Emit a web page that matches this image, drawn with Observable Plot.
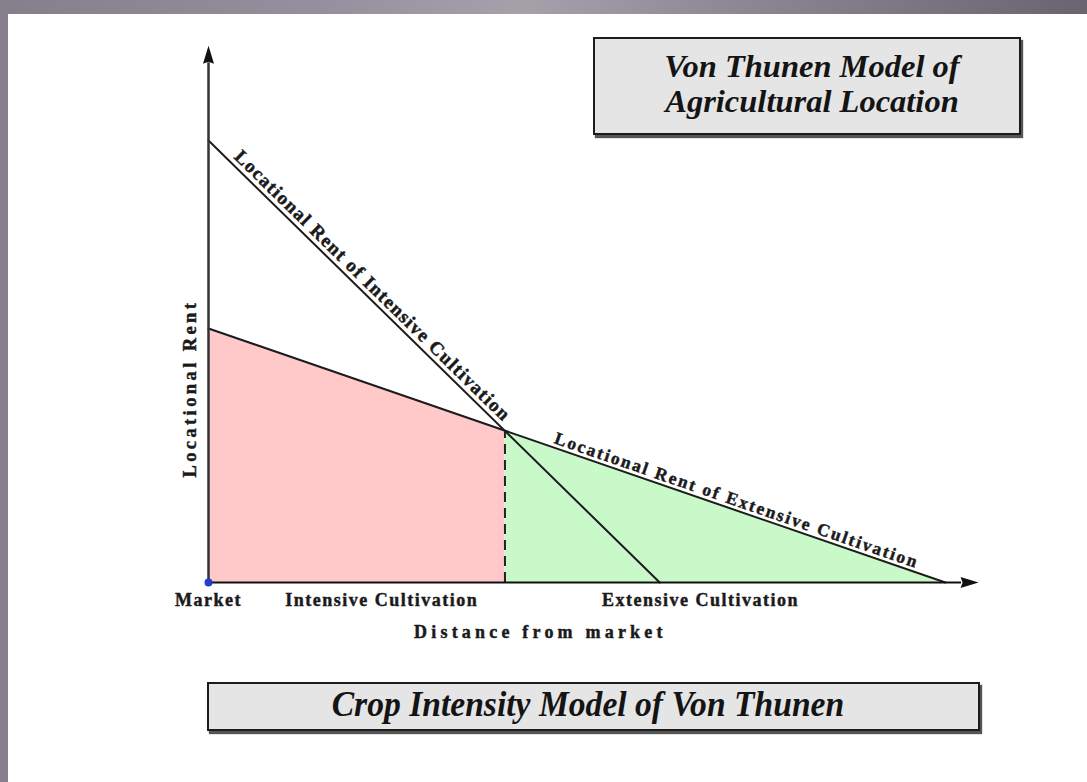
<!DOCTYPE html>
<html><head><meta charset="utf-8">
<script src="https://cdn.jsdelivr.net/npm/d3@7"></script>
<script src="https://cdn.jsdelivr.net/npm/@observablehq/plot@0.6"></script>
<style>
html,body{margin:0;padding:0;width:1087px;height:782px;overflow:hidden;}
body{position:relative;background:linear-gradient(90deg,#857e8b 0%,#96909e 30%,#a5a1ab 48%,#8b8491 70%,#6a6370 100%);font-family:"Liberation Serif",serif;}
#page{position:absolute;left:8px;top:14px;width:1079px;height:768px;background:#fff;}
#chart{position:absolute;left:0;top:0;}
.box{position:absolute;box-sizing:border-box;background:#e5e5e5;border:2px solid #1c1c1c;box-shadow:2px 3px 1px #555;text-align:center;font-weight:bold;font-style:italic;color:#141414;font-family:"Liberation Serif",serif;}
#t1{left:585px;top:23px;width:428px;height:98px;font-size:32.5px;line-height:35px;padding-top:10px;padding-left:10px;}
#t2{left:199px;top:668px;width:773px;height:49px;font-size:35px;line-height:42px;}
#t2 span{display:inline-block;transform:scaleX(0.96);margin-left:-12px;}
</style></head>
<body>
<div id="page">
  <div id="chart"></div>
  <div class="box" id="t1"></div>
  <div class="box" id="t2"><span></span></div>
</div>
<script>
// ---- data (distance from market, locational rent) ----
const titleLines = ["Von Thunen Model of", "Agricultural Location"];
const bottomTitle = "Crop Intensity Model of Von Thunen";
const xTitle = "Distance from market";
const yTitle = "Locational Rent";

const intensiveDistance = [0, 58.6];
const intensiveRent = [82.3, 0];
const extensiveDistance = [0, 95.7];
const extensiveRent = [47.3, 0];
const boundaryDistance = 38.5;
const boundaryRent = 28.3;
const axisMax = 100;

const zoneLabels = ["Market", "Intensive Cultivation", "Extensive Cultivation"];
const zoneLabelDistance = [0, 22.5, 63.9];
const curveLabels = ["Locational Rent of Intensive Cultivation", "Locational Rent of Extensive Cultivation"];
const curveLabelDistance = [20.3, 68.2];

// ---- build tables ----
const intensive = intensiveDistance.map((d, i) => ({d, r: intensiveRent[i]}));
const extensive = extensiveDistance.map((d, i) => ({d, r: extensiveRent[i]}));
const rentAt = (line, d) => line[0].r + (line[1].r - line[0].r) * (d - line[0].d) / (line[1].d - line[0].d);
const intensiveZone = [{d: 0, r: extensiveRent[0]}, {d: boundaryDistance, r: boundaryRent}];
const extensiveZone = [{d: boundaryDistance, r: boundaryRent}, {d: extensiveDistance[1], r: 0}];

const X = {domain: [0, axisMax], range: [200, 970]};
const Y = {domain: [0, axisMax], range: [568, 31]};
const xs = d3.scaleLinear(X.domain, X.range), ys = d3.scaleLinear(Y.domain, Y.range);
const angleOf = line => Math.atan2(ys(line[1].r) - ys(line[0].r), xs(line[1].d) - xs(line[0].d)) * 180 / Math.PI;

const curveTable = [
  {text: curveLabels[0], d: curveLabelDistance[0], r: rentAt(intensive, curveLabelDistance[0]), a: angleOf(intensive)},
  {text: curveLabels[1], d: curveLabelDistance[1], r: rentAt(extensive, curveLabelDistance[1]), a: angleOf(extensive)}
];
const zoneTable = zoneLabels.map((t, i) => ({text: t, d: zoneLabelDistance[i], r: 0}));

const arrowUp = {draw(ctx) { ctx.moveTo(0, -17); ctx.lineTo(5.5, 1); ctx.lineTo(0, -1); ctx.lineTo(-5.5, 1); ctx.closePath(); }};
const arrowRight = {draw(ctx) { ctx.moveTo(17, 0); ctx.lineTo(-1, 5.5); ctx.lineTo(1, 0); ctx.lineTo(-1, -5.5); ctx.closePath(); }};

const font = {fontFamily: "Liberation Serif", fontWeight: "bold", fontSize: 18, fill: "#1a1a1a", stroke: "#1a1a1a", strokeWidth: 0.45};

const chart = Plot.plot({
  width: 1079, height: 768,
  x: {...X, axis: null},
  y: {...Y, axis: null},
  style: {background: "transparent", overflow: "visible"},
  marks: [
    Plot.areaY(intensiveZone, {x: "d", y: "r", fill: "#ffc9c9"}),
    Plot.areaY(extensiveZone, {x: "d", y: "r", fill: "#c9f8c9"}),
    Plot.ruleX([boundaryDistance], {y1: 0, y2: boundaryRent, stroke: "#222", strokeWidth: 2, strokeDasharray: "10,6"}),
    Plot.line(intensive, {x: "d", y: "r", stroke: "#1c1c1c", strokeWidth: 2}),
    Plot.line(extensive, {x: "d", y: "r", stroke: "#1c1c1c", strokeWidth: 2}),
    Plot.ruleX([0], {y1: 0, y2: axisMax - 3.2, stroke: "#333", strokeWidth: 2.5}),
    Plot.ruleY([0], {x1: 0, x2: axisMax - 2.2, stroke: "#111", strokeWidth: 2}),
    Plot.dot([{d: 0, r: axisMax - 3.2}], {x: "d", y: "r", symbol: arrowUp, fill: "#111", stroke: null}),
    Plot.dot([{d: axisMax - 2.2, r: 0}], {x: "d", y: "r", symbol: arrowRight, fill: "#111", stroke: null}),
    Plot.dot([{d: 0, r: 0}], {x: "d", y: "r", r: 4, fill: "#1f3fd0", stroke: null}),
    Plot.text([curveTable[0]], {x: "d", y: "r", text: "text", rotate: curveTable[0].a, lineAnchor: "bottom", textAnchor: "middle", dx: 3.5, dy: -3.6, ...font, fontSize: 19}),
    Plot.text([curveTable[1]], {x: "d", y: "r", text: "text", rotate: curveTable[1].a, lineAnchor: "bottom", textAnchor: "middle", dx: 1.3, dy: -3.8, ...font, fontSize: 17.5}),
    Plot.text(zoneTable, {x: "d", y: "r", text: "text", dy: 18, ...font}),
    Plot.text([{d: 43.1, r: 0}], {x: "d", y: "r", text: () => xTitle, dy: 50, ...font}),
    Plot.text([{d: 0, r: 36.1}], {x: "d", y: "r", text: () => yTitle, dx: -18, rotate: -90, ...font, fontSize: 18.5})
  ]
});
document.getElementById("chart").appendChild(chart);

const spacing = {};
spacing[curveLabels[0]] = 1.3;
spacing[curveLabels[1]] = 2;
zoneLabels.forEach(t => spacing[t] = 1.5);
spacing[xTitle] = 4.2;
spacing[yTitle] = 3.4;
chart.querySelectorAll("text").forEach(t => {
  const s = spacing[t.textContent];
  if (s) t.style.letterSpacing = s + "px";
});

document.getElementById("t1").innerHTML = titleLines.join("<br>");
document.querySelector("#t2 span").textContent = bottomTitle;
</script>
</body></html>
